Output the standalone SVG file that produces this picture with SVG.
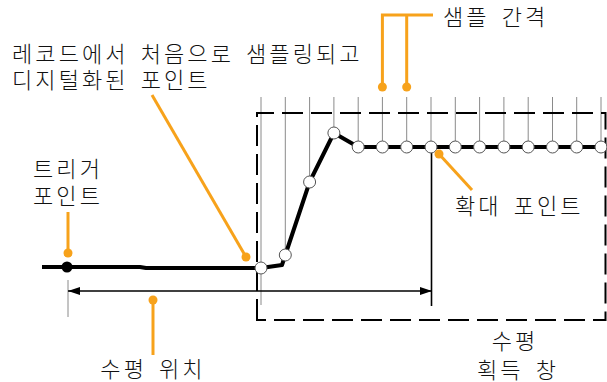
<svg xmlns="http://www.w3.org/2000/svg" width="607" height="382" viewBox="0 0 607 382">
<style>
.t{font-family:"Noto Sans CJK KR","Noto Sans",sans-serif;font-size:22px;font-weight:300;fill:#111;letter-spacing:3.1px;word-spacing:4px}
.grid{stroke:#8a8a8a;stroke-width:1;fill:none}
.or{stroke:#F7A21B;stroke-width:3;fill:none}
.od{fill:#F7A21B}
.smp{fill:#fff;stroke:#555;stroke-width:1}
</style>
<defs>
<marker id="ah" viewBox="0 0 12 8" refX="12" refY="4" markerWidth="12" markerHeight="8" markerUnits="userSpaceOnUse" orient="auto-start-reverse">
<path d="M0,0 L12,4 L0,8 Z" fill="#000"/>
</marker>
</defs>
<g id="connectors">
<g class="grid">
<line x1="261" y1="97" x2="261" y2="305"/>
<line x1="285.3" y1="97" x2="285.3" y2="255"/>
<line x1="309.6" y1="97" x2="309.6" y2="182"/>
<line x1="333.9" y1="97" x2="333.9" y2="133"/>
<line x1="358.2" y1="97" x2="358.2" y2="147"/>
<line x1="382.4" y1="97" x2="382.4" y2="147"/>
<line x1="406.7" y1="97" x2="406.7" y2="147"/>
<line x1="431" y1="97" x2="431" y2="147"/>
<line x1="455.3" y1="97" x2="455.3" y2="147"/>
<line x1="479.6" y1="97" x2="479.6" y2="147"/>
<line x1="503.9" y1="97" x2="503.9" y2="147"/>
<line x1="528.2" y1="97" x2="528.2" y2="147"/>
<line x1="552.5" y1="97" x2="552.5" y2="147"/>
<line x1="576.7" y1="97" x2="576.7" y2="147"/>
<line x1="601" y1="97" x2="601" y2="147"/>
<line x1="68" y1="280" x2="68" y2="317"/>
</g>
<path d="M257,320 V113 H605.5 V320 Z" fill="none" stroke="#000" stroke-width="2" stroke-dasharray="21 8"/>
<line x1="431.5" y1="147" x2="431.5" y2="306" stroke="#000" stroke-width="1.6"/>
<line x1="68" y1="291" x2="432" y2="291" stroke="#000" stroke-width="1.5" marker-start="url(#ah)" marker-end="url(#ah)"/>
<path d="M42,267 H140 L146,268 H261 L282,265 L285.3,255 L309.6,182 L333.9,133 L358.2,147 H607" fill="none" stroke="#000" stroke-width="4" stroke-linejoin="round"/>
<path class="or" d="M382.4,87 V15 H433 M406.7,15 V87"/>
<line class="or" x1="152" y1="95" x2="246" y2="257"/>
<line class="or" x1="68" y1="212" x2="68" y2="253"/>
<line class="or" x1="153" y1="300" x2="153" y2="355"/>
<line class="or" x1="439" y1="154" x2="472" y2="190"/>
</g>
<g id="samples">
<circle class="smp" cx="261" cy="268" r="6"/>
<circle class="smp" cx="285.3" cy="255" r="6"/>
<circle class="smp" cx="309.6" cy="182" r="6"/>
<circle class="smp" cx="333.9" cy="133" r="6"/>
<circle class="smp" cx="358.2" cy="147" r="6"/>
<circle class="smp" cx="382.4" cy="147" r="6"/>
<circle class="smp" cx="406.7" cy="147" r="6"/>
<circle class="smp" cx="431" cy="147" r="6"/>
<circle class="smp" cx="455.3" cy="147" r="6"/>
<circle class="smp" cx="479.6" cy="147" r="6"/>
<circle class="smp" cx="503.9" cy="147" r="6"/>
<circle class="smp" cx="528.2" cy="147" r="6"/>
<circle class="smp" cx="552.5" cy="147" r="6"/>
<circle class="smp" cx="576.7" cy="147" r="6"/>
<circle class="smp" cx="601" cy="147" r="6"/>
</g>
<g id="trigger-point">
<circle cx="67" cy="267" r="5.5" fill="#000"/>
<circle class="od" cx="68" cy="253" r="4.5"/>
<text class="t" x="33" y="177">트리거</text>
<text class="t" x="33" y="204">포인트</text>
</g>
<g id="first-sample">
<circle class="od" cx="246" cy="257" r="4.5"/>
<text class="t" x="12" y="61.5">레코드에서 처음으로 샘플링되고</text>
<text class="t" x="12" y="87.5">디지털화된 포인트</text>
</g>
<g id="sample-interval">
<circle class="od" cx="382.4" cy="87" r="4.5"/>
<circle class="od" cx="406.7" cy="87" r="4.5"/>
<text class="t" x="443" y="25">샘플 간격</text>
</g>
<g id="expansion-point">
<circle class="od" cx="439" cy="154" r="4.5"/>
<text class="t" x="455" y="213.5">확대 포인트</text>
</g>
<g id="horizontal-position">
<circle class="od" cx="153" cy="300" r="4.5"/>
<text class="t" x="153" y="377" text-anchor="middle">수평 위치</text>
</g>
<g id="acquisition-window">
<text class="t" x="515" y="348.5" text-anchor="middle">수평</text>
<text class="t" x="518" y="377.5" text-anchor="middle">획득 창</text>
</g>
</svg>
